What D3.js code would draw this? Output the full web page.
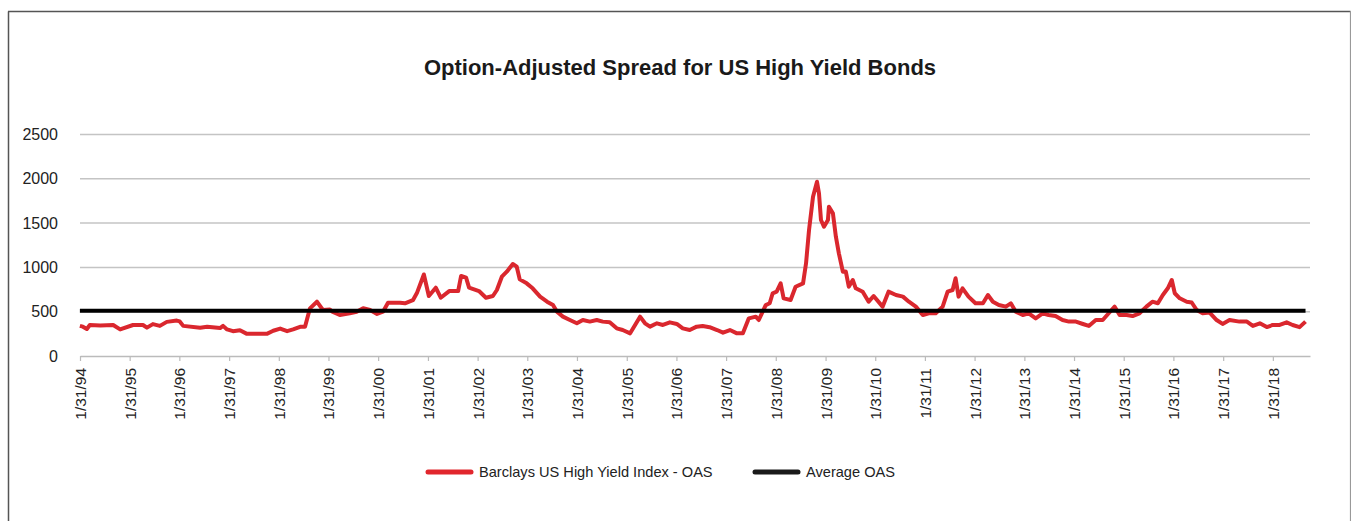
<!DOCTYPE html>
<html>
<head>
<meta charset="utf-8">
<script src="https://cdn.jsdelivr.net/npm/d3@7"></script>
<style>
  html, body { margin: 0; padding: 0; background: #fff; }
  svg { display: block; }
  text { font-family: "Liberation Sans", Arial, Helvetica, sans-serif; }
</style>
</head>
<body>
<svg id="chart" width="1351" height="521"></svg>
<script>
// ---- Data (decimal years, OAS in bp) ----
const seriesName = "Barclays US High Yield Index - OAS";
const averageName = "Average OAS";
const title = "Option-Adjusted Spread for US High Yield Bonds";

const oasDates = [
  1994.08, 1994.14, 1994.22, 1994.28, 1994.49, 1994.75, 1994.89, 1995.15, 1995.35, 1995.43,
  1995.55, 1995.69, 1995.83, 1996.03, 1996.09, 1996.16, 1996.50, 1996.64, 1996.90, 1996.96,
  1997.04, 1997.16, 1997.30, 1997.44, 1997.84, 1997.97, 1998.11, 1998.25, 1998.37, 1998.51,
  1998.61, 1998.71, 1998.85, 1998.97, 1999.11, 1999.17, 1999.31, 1999.51, 1999.65, 1999.78,
  1999.92, 2000.06, 2000.18, 2000.28, 2000.52, 2000.62, 2000.78, 2000.86, 2001.00, 2001.10,
  2001.24, 2001.34, 2001.51, 2001.69, 2001.75, 2001.85, 2001.91, 2002.11, 2002.25, 2002.39,
  2002.47, 2002.57, 2002.67, 2002.79, 2002.87, 2002.93, 2003.07, 2003.19, 2003.34, 2003.48,
  2003.60, 2003.68, 2003.80, 2003.94, 2004.08, 2004.20, 2004.34, 2004.48, 2004.60, 2004.74,
  2004.88, 2005.00, 2005.15, 2005.25, 2005.35, 2005.45, 2005.55, 2005.69, 2005.81, 2005.95,
  2006.09, 2006.21, 2006.35, 2006.49, 2006.61, 2006.75, 2006.90, 2007.02, 2007.16, 2007.30,
  2007.42, 2007.54, 2007.68, 2007.74, 2007.88, 2007.96, 2008.02, 2008.10, 2008.18, 2008.24,
  2008.38, 2008.48, 2008.63, 2008.69, 2008.75, 2008.83, 2008.91, 2008.95, 2008.99, 2009.05,
  2009.13, 2009.15, 2009.23, 2009.29, 2009.35, 2009.43, 2009.49, 2009.55, 2009.63, 2009.69,
  2009.83, 2009.95, 2010.05, 2010.23, 2010.35, 2010.50, 2010.64, 2010.76, 2010.90, 2011.04,
  2011.16, 2011.30, 2011.44, 2011.54, 2011.64, 2011.70, 2011.76, 2011.84, 2011.96, 2012.10,
  2012.25, 2012.35, 2012.45, 2012.57, 2012.71, 2012.81, 2012.91, 2013.05, 2013.17, 2013.31,
  2013.45, 2013.57, 2013.71, 2013.85, 2013.98, 2014.12, 2014.26, 2014.38, 2014.52, 2014.66,
  2014.78, 2014.90, 2015.00, 2015.14, 2015.26, 2015.40, 2015.54, 2015.66, 2015.77, 2015.87,
  2015.97, 2016.05, 2016.11, 2016.21, 2016.35, 2016.45, 2016.55, 2016.67, 2016.81, 2016.95,
  2017.07, 2017.21, 2017.41, 2017.56, 2017.68, 2017.82, 2017.96, 2018.08, 2018.22, 2018.36,
  2018.48, 2018.62, 2018.74
];
const oasValues = [
  340, 331, 305, 350, 345, 350, 300, 350, 350, 320,
  360, 340, 385, 400, 390, 340, 320, 330, 315, 340,
  300, 280, 290, 250, 250, 285, 310, 280, 300, 330,
  330, 538, 613, 519, 525, 497, 463, 482, 500, 540,
  520, 475, 500, 600, 600, 595, 630, 710, 920, 677,
  771, 658, 733, 733, 903, 884, 771, 733, 658, 677,
  745, 895, 952, 1038, 1008, 865, 820, 764, 670, 613,
  575, 500, 444, 406, 369, 406, 388, 406, 388, 380,
  312, 293, 256, 350, 444, 369, 331, 369, 350, 380,
  362, 312, 293, 331, 338, 325, 293, 263, 293, 256,
  256, 425, 444, 406, 575, 595, 708, 726, 820, 651,
  632, 782, 820, 1046, 1422, 1798, 1967, 1836, 1535, 1459,
  1535, 1685, 1610, 1347, 1159, 952, 953, 782, 858, 764,
  726, 613, 677, 557, 726, 688, 670, 613, 557, 463,
  482, 482, 557, 726, 745, 877, 670, 764, 670, 595,
  595, 688, 613, 575, 557, 595, 500, 463, 482, 425,
  482, 463, 451, 406, 388, 388, 361, 339, 406, 406,
  482, 557, 463, 463, 451, 482, 557, 613, 595, 689,
  764, 858, 708, 651, 613, 604, 519, 482, 490, 406,
  362, 406, 388, 388, 340, 369, 326, 350, 350, 380,
  350, 326, 388
];
const averageOAS = 512;

const yTicks = [0, 500, 1000, 1500, 2000, 2500];
const xTickYears = [1994, 1995, 1996, 1997, 1998, 1999, 2000, 2001, 2002, 2003, 2004, 2005,
  2006, 2007, 2008, 2009, 2010, 2011, 2012, 2013, 2014, 2015, 2016, 2017, 2018];

// ---- helpers ----
function decToDate(t) {
  const yr = Math.floor(t);
  const a = new Date(yr, 0, 1).getTime(), b = new Date(yr + 1, 0, 1).getTime();
  return new Date(a + (t - yr) * (b - a));
}
const data = oasDates.map((t, i) => ({ date: decToDate(t), value: oasValues[i] }));

// ---- layout ----
const svg = d3.select("#chart");
const plotLeft = 80, plotRight = 1310, plotTop = 134.5, plotBottom = 356;

const x = d3.scaleTime()
  .domain([new Date(1994, 0, 31), new Date(2018, 9, 31)])
  .range([plotLeft, plotRight]);
const y = d3.scaleLinear().domain([0, 2500]).range([plotBottom, plotTop]);

// frame
svg.append("line").attr("x1", 8.5).attr("x2", 8.5).attr("y1", 11.5).attr("y2", 521)
  .attr("stroke", "#555").attr("stroke-width", 1.5);
svg.append("line").attr("x1", 8).attr("x2", 1350.5).attr("y1", 11.5).attr("y2", 11.5)
  .attr("stroke", "#555").attr("stroke-width", 1.5);
svg.append("line").attr("x1", 1350.5).attr("x2", 1350.5).attr("y1", 11).attr("y2", 521)
  .attr("stroke", "#999").attr("stroke-width", 1.2);

// title
svg.append("text")
  .attr("x", 680).attr("y", 75)
  .attr("text-anchor", "middle")
  .attr("font-size", 22).attr("font-weight", "bold").attr("fill", "#1a1a1a")
  .text(title);

// gridlines
svg.append("g")
  .selectAll("line")
  .data(yTicks.filter(d => d > 0))
  .join("line")
  .attr("x1", plotLeft).attr("x2", plotRight)
  .attr("y1", d => y(d)).attr("y2", d => y(d))
  .attr("stroke", "#c4c4c4").attr("stroke-width", 1.5);

// y axis labels
const yAxis = d3.axisLeft(y).tickValues(yTicks).tickFormat(d3.format("d"))
  .tickSize(0).tickPadding(0);
const gy = svg.append("g").attr("transform", "translate(58,0)").call(yAxis);
gy.select(".domain").remove();
gy.selectAll("text")
  .attr("font-size", 16).attr("fill", "#222")
  .attr("font-family", "\"Liberation Sans\", Arial, sans-serif");

// x axis
const xAxis = d3.axisBottom(x)
  .tickValues(xTickYears.map(yr => new Date(yr, 0, 31)))
  .tickFormat(d3.timeFormat("%-m/%d/%y"))
  .tickSize(5).tickSizeOuter(0);
const gx = svg.append("g").attr("transform", `translate(0,${plotBottom})`).call(xAxis);
gx.select(".domain").attr("stroke", "#bbb").attr("stroke-width", 1.5);
gx.selectAll(".tick line").attr("stroke", "#bbb").attr("stroke-width", 1.2);
gx.selectAll("text")
  .attr("font-size", 15.5).attr("fill", "#222")
  .attr("font-family", "\"Liberation Sans\", Arial, sans-serif")
  .attr("text-anchor", "end")
  .attr("dy", "0.35em")
  .attr("transform", "translate(0,12) rotate(-90)")
  .attr("x", 0).attr("y", 0);

// OAS line
const line = d3.line().x(d => x(d.date)).y(d => y(d.value)).curve(d3.curveLinear);
svg.append("path")
  .datum(data)
  .attr("d", line)
  .attr("fill", "none")
  .attr("stroke", "#da272e")
  .attr("stroke-width", 4)
  .attr("stroke-linejoin", "round");

// average line
svg.append("line")
  .attr("x1", x(data[0].date)).attr("x2", x(data[data.length - 1].date))
  .attr("y1", y(averageOAS)).attr("y2", y(averageOAS))
  .attr("stroke", "#000").attr("stroke-width", 4);

// legend
const legend = [
  { name: seriesName, color: "#e1262d", x: 426 },
  { name: averageName, color: "#1a1a1a", x: 753 }
];
const lg = svg.append("g").selectAll("g").data(legend).join("g")
  .attr("transform", d => `translate(${d.x},472)`);
lg.append("line").attr("x1", 2).attr("x2", 45).attr("y1", 0).attr("y2", 0)
  .attr("stroke", d => d.color).attr("stroke-width", 5).attr("stroke-linecap", "round");
lg.append("text").attr("x", 53).attr("y", 0).attr("dy", "0.35em")
  .attr("font-size", 14.6).attr("fill", "#222")
  .text(d => d.name);
</script>
</body>
</html>
